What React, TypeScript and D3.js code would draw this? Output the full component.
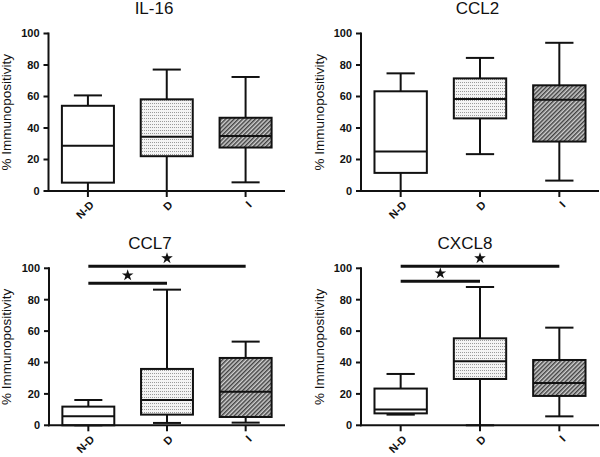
import React from "react";
import * as d3 from "d3";

const groups = ["N-D", "D", "I"];
const titles = ["IL-16", "CCL2", "CCL7", "CXCL8"];
const yTicks = [0, 20, 40, 60, 80, 100];
// [min, q1, median, q3, max] per group
const il16 = [[0, 5.3, 28.7, 54.1, 60.7], [0, 22.1, 34.4, 58.2, 77.1], [5.5, 27.6, 35.0, 46.5, 72.4]];
const ccl2 = [[0, 11.5, 25.1, 63.3, 74.7], [23.4, 46.1, 58.4, 71.5, 84.5], [6.6, 31.4, 58.0, 67.1, 94.1]];
const ccl7 = [[0, 0, 5.7, 11.9, 16.1], [1.5, 6.8, 16.1, 35.9, 86.4], [1.7, 5.3, 21.4, 42.9, 53.3]];
const cxcl8 = [[6.8, 7.6, 10.0, 23.4, 32.7], [0, 29.5, 40.8, 55.4, 88.1], [5.7, 18.7, 27.0, 41.6, 62.2]];
const il16Sig: { from: string; to: string; y: number }[] = [];
const ccl2Sig: { from: string; to: string; y: number }[] = [];
const ccl7Sig = [{ from: "N-D", to: "D", y: 90.4 }, { from: "N-D", to: "I", y: 101.3 }];
const cxcl8Sig = [{ from: "N-D", to: "D", y: 91.7 }, { from: "N-D", to: "I", y: 101.3 }];

const allData = [il16, ccl2, ccl7, cxcl8];
const allSig = [il16Sig, ccl2Sig, ccl7Sig, cxcl8Sig];

const layout = [
  { x0: 48.5, x1: 285, yTop: 33.5, yBot: 191, titleX: 154, titleY: 14, labelX: 10.5 },
  { x0: 361, x1: 599, yTop: 33.5, yBot: 191, titleX: 477.5, titleY: 14, labelX: 324 },
  { x0: 49, x1: 285, yTop: 268.3, yBot: 425.3, titleX: 150, titleY: 249, labelX: 10.5 },
  { x0: 361, x1: 599, yTop: 268.3, yBot: 425.3, titleX: 465, titleY: 249, labelX: 324 },
];

const FONT = "'Liberation Sans', Arial, Helvetica, sans-serif";
const fills = ["#ffffff", "url(#dots)", "url(#hatch)"];
const starPath = d3.symbol(d3.symbolStar, 42)() as string;

function Panel({ idx }: { idx: number }) {
  const L = layout[idx];
  const data = allData[idx];
  const sig = allSig[idx];
  const y = d3.scaleLinear().domain([0, 100]).range([L.yBot, L.yTop]);
  const x = d3.scalePoint<string>().domain(groups).range([L.x0, L.x1]).padding(0.5);
  const step = x.step();
  const bw = step * 0.66;
  const cw = bw * 0.54;
  return (
    <g>
      <text x={L.titleX} y={L.titleY} textAnchor="middle" fontSize={17} fontFamily={FONT} fill="#111">
        {titles[idx]}
      </text>
      <text
        transform={`translate(${L.labelX},${(L.yTop + L.yBot) / 2}) rotate(-90)`}
        textAnchor="middle"
        fontSize={13.5}
        fontFamily={FONT}
        fill="#111"
      >
        % Immunopositivity
      </text>
      {groups.map((g, i) => {
        const [mn, q1, md, q3, mx] = data[i];
        const cx = x(g) as number;
        return (
          <g key={g} stroke="#111" strokeWidth={2}>
            <line x1={cx} x2={cx} y1={y(q3)} y2={y(mx)} />
            <line x1={cx} x2={cx} y1={y(q1)} y2={y(mn)} />
            <line x1={cx - cw / 2} x2={cx + cw / 2} y1={y(mx)} y2={y(mx)} />
            <line x1={cx - cw / 2} x2={cx + cw / 2} y1={y(mn)} y2={y(mn)} />
            <rect x={cx - bw / 2} y={y(q3)} width={bw} height={y(q1) - y(q3)} fill={fills[i]} />
            <line x1={cx - bw / 2} x2={cx + bw / 2} y1={y(md)} y2={y(md)} />
          </g>
        );
      })}
      {/* axes */}
      <g stroke="#111" strokeWidth={2} fill="none">
        <line x1={L.x0} x2={L.x0} y1={y(100) - 1} y2={y(0) + 1} />
        <line x1={L.x0 - 1} x2={L.x1} y1={y(0)} y2={y(0)} />
        {yTicks.map((t) => (
          <line key={t} x1={L.x0 - 5} x2={L.x0} y1={y(t)} y2={y(t)} />
        ))}
        {groups.map((g) => (
          <line key={g} x1={x(g)} x2={x(g)} y1={y(0)} y2={y(0) + 6} />
        ))}
      </g>
      {yTicks.map((t) => (
        <text
          key={t}
          x={L.x0 - 9}
          y={y(t)}
          dy="0.36em"
          textAnchor="end"
          fontSize={11}
          fontWeight="bold"
          fontFamily={FONT}
          fill="#111"
        >
          {t}
        </text>
      ))}
      {groups.map((g) => (
        <text
          key={g}
          transform={`translate(${(x(g) as number) + 4},${y(0) + 12}) rotate(-45)`}
          textAnchor="end"
          dy="0.35em"
          fontSize={11}
          fontWeight="bold"
          fontFamily={FONT}
          fill="#111"
        >
          {g}
        </text>
      ))}
      {sig.map((s, k) => {
        const a = x(s.from) as number;
        const b = x(s.to) as number;
        return (
          <g key={k}>
            <line x1={a} x2={b} y1={y(s.y)} y2={y(s.y)} stroke="#111" strokeWidth={3} />
            <path d={starPath} transform={`translate(${(a + b) / 2},${y(s.y) - 8})`} fill="#111" />
          </g>
        );
      })}
    </g>
  );
}

export default function App() {
  return (
    <svg width={600} height={457} style={{ display: "block", position: "absolute", left: 0, top: 0, background: "#fff" }}>
      <defs>
        <pattern id="dots" patternUnits="userSpaceOnUse" width={2} height={3}>
          <rect width={2} height={3} fill="#f4f4f4" />
          <rect x={0} y={1} width={1} height={1} fill="#9a9a9a" />
        </pattern>
        <pattern id="hatch" patternUnits="userSpaceOnUse" width={3} height={3} patternTransform="rotate(45)">
          <rect width={3} height={3} fill="#d0d0d0" />
          <line x1={0.75} x2={0.75} y1={0} y2={3} stroke="#3a3a3a" strokeWidth={1.4} />
        </pattern>
      </defs>
      <rect width={600} height={457} fill="#fff" />
      {[0, 1, 2, 3].map((i) => (
        <Panel key={i} idx={i} />
      ))}
    </svg>
  );
}
